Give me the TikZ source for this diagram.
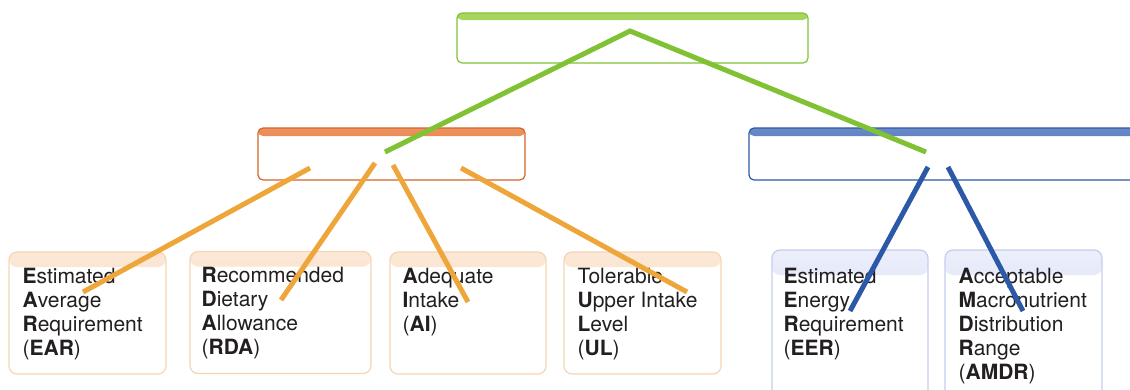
\documentclass[tikz,border=0pt]{standalone}
\usepackage{fontspec}
\setmainfont{TeX Gyre Heros}
\usetikzlibrary{positioning}

\definecolor{drigreen}{RGB}{128,194,52}
\definecolor{drigreenlt}{RGB}{170,214,100}
\definecolor{rdaorange}{RGB}{212,100,40}
\definecolor{rdaorangelt}{RGB}{236,146,96}
\definecolor{rdaline}{RGB}{238,166,58}
\definecolor{peach}{RGB}{246,212,182}
\definecolor{peachlt}{RGB}{251,232,214}
\definecolor{eerblue}{RGB}{44,88,168}
\definecolor{eerbluelt}{RGB}{108,138,200}
\definecolor{lavender}{RGB}{196,205,238}
\definecolor{lavenderlt}{RGB}{236,239,251}
\definecolor{inktext}{RGB}{35,31,32}

\tikzset{
  box/.style={draw, fill=white, inner sep=0pt, line width=1.2pt},
  band/.style n args={3}{path picture={
    \shade[top color=#1, bottom color=#2] (path picture bounding box.north west)
      rectangle ([yshift=-#3]path picture bounding box.north east);}},
  tag/.style={anchor=north west, align=left, inner sep=0pt, text=inktext,
    font=\fontsize{21}{24}\selectfont},
  link/.style={line width=5pt},
}

\begin{document}
\begin{tikzpicture}[x=1pt, y=-1pt]
		\useasboundingbox (0,0) rectangle (1130,389);
		
		\node [box, draw=drigreen, rounded corners=5pt, band={drigreenlt}{drigreen}{7pt},
			minimum width=351pt, minimum height=50pt] (dri) at (632.5,38) {};
		\node [box, draw=rdaorange, rounded corners=5pt, band={rdaorangelt}{rdaorange}{8pt},
			minimum width=267pt, minimum height=52pt] (intake) at (391.5,154) {};
		\node [box, draw=eerblue, rounded corners=5pt, band={eerbluelt}{eerblue}{8pt},
			minimum width=400pt, minimum height=52pt] (energy) at (949,154) {};
		
		\begin{scope}[every node/.append style={box, draw=peach, rounded corners=8pt,
				band={peachlt}{peach}{15pt}, minimum height=122pt}]
			\node [minimum width=157pt] (ear) at (87.5,313) {};
			\node [minimum width=181pt] (rda) at (280.5,312.5) {};
			\node [minimum width=156pt] (ai) at (468,313) {};
			\node [minimum width=157pt] (ul) at (642.5,313) {};
		\end{scope}
		\begin{scope}[every node/.append style={box, draw=lavender, rounded corners=8pt,
				band={lavenderlt}{lavender}{25pt}, minimum height=160pt}]
			\node [minimum width=156pt] (eer) at (850,330) {};
			\node [minimum width=157pt] (amdr) at (1023.5,330) {};
		\end{scope}
		
		\node [tag] (ear text) at ([shift={(14pt,-16.5pt)}]ear.north west)
			{\textbf{E}stimated\\\textbf{A}verage\\\textbf{R}equirement\\(\textbf{EAR})};
		\node [tag] (rda text) at ([shift={(12pt,-16.5pt)}]rda.north west)
			{\textbf{R}ecommended\\\textbf{D}ietary\\\textbf{A}llowance\\(\textbf{RDA})};
		\node [tag] (ai text) at ([shift={(13pt,-16.5pt)}]ai.north west)
			{\textbf{A}dequate\\\textbf{I}ntake\\(\textbf{AI})};
		\node [tag] (ul text) at ([shift={(14pt,-16.5pt)}]ul.north west)
			{Tolerable\\\textbf{U}pper Intake\\\textbf{L}evel\\(\textbf{UL})};
		\node [tag] (eer text) at ([shift={(12pt,-18.5pt)}]eer.north west)
			{\textbf{E}stimated\\\textbf{E}nergy\\\textbf{R}equirement\\(\textbf{EER})};
		\node [tag] (amdr text) at ([shift={(14pt,-18.5pt)}]amdr.north west)
			{\textbf{A}cceptable\\\textbf{M}acronutrient\\\textbf{D}istribution\\\textbf{R}ange\\(\textbf{AMDR})};
		
		\coordinate (dri top) at (630,31);
		\coordinate (intake in) at (385,152);
		\coordinate (energy in) at (926,152);
		\coordinate (ear out) at (310,168);
		\coordinate (rda out) at (375,163);
		\coordinate (ai out) at (393,165);
		\coordinate (ul out) at (461,168);
		\coordinate (eer out) at (928,167);
		\coordinate (amdr out) at (948,167);
		\coordinate (ear in) at (83,292);
		\coordinate (rda in) at (281,300);
		\coordinate (ai in) at (468,302);
		\coordinate (ul in) at (687,292);
		\coordinate (eer in) at (850,311);
		\coordinate (amdr in) at (1023,311);
		
		\begin{scope}[link, rdaline]
			\draw (ear out) -- (ear in);
			\draw (rda out) -- (rda in);
			\draw (ai out) -- (ai in);
			\draw (ul out) -- (ul in);
		\end{scope}
		\begin{scope}[link, eerblue]
			\draw (eer out) -- (eer in);
			\draw (amdr out) -- (amdr in);
		\end{scope}
		\draw [link, drigreen] (intake in) -- (dri top) -- (energy in);
	\end{tikzpicture}
\end{document}
